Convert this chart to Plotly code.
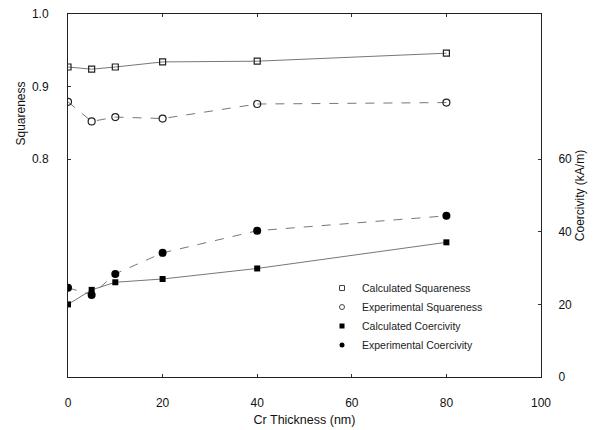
import plotly.graph_objects as go

thickness = [0, 5, 10, 20, 40, 80]
calc_squareness = [0.927, 0.924, 0.927, 0.934, 0.935, 0.946]
exp_squareness = [0.879, 0.852, 0.858, 0.856, 0.876, 0.878]
calc_coercivity = [20.0, 24.0, 26.1, 27.0, 29.9, 37.1]
exp_coercivity = [24.6, 22.6, 28.4, 34.2, 40.3, 44.4]

names = ["Calculated Squareness", "Experimental Squareness",
         "Calculated Coercivity", "Experimental Coercivity"]

FONT = "Liberation Sans, Arial, sans-serif"
LINE = "#777777"

markers = [
    dict(symbol="square-open", size=6, color="#222", line=dict(width=1.2, color="#222")),
    dict(symbol="circle-open", size=7, color="#222", line=dict(width=1.2, color="#222")),
    dict(symbol="square", size=6, color="#000"),
    dict(symbol="circle", size=8, color="#000"),
]
legend_markers = [
    dict(symbol="square-open", size=5, color="#444", line=dict(width=1, color="#444")),
    dict(symbol="circle-open", size=5, color="#444", line=dict(width=1, color="#444")),
    dict(symbol="square", size=5, color="#000"),
    dict(symbol="circle", size=5, color="#000"),
]
series = [calc_squareness, exp_squareness, calc_coercivity, exp_coercivity]
dashes = ["solid", "dash", "solid", "dash"]
axes = ["y", "y", "y2", "y2"]

fig = go.Figure()
for i in range(4):
    fig.add_trace(go.Scatter(
        x=thickness, y=series[i], name=names[i], mode="lines+markers", yaxis=axes[i],
        line=dict(color=LINE, width=1, dash=dashes[i]),
        marker=markers[i], showlegend=False,
    ))
for i in range(4):
    fig.add_trace(go.Scatter(
        x=[None], y=[None], name=names[i], mode="markers", yaxis=axes[i],
        marker=legend_markers[i], showlegend=True,
    ))

fig.update_layout(
    width=593, height=430,
    margin=dict(l=68, r=52, t=14, b=53, autoexpand=False),
    paper_bgcolor="white", plot_bgcolor="white",
    font=dict(family=FONT, size=12, color="#111"),
    showlegend=True,
    legend=dict(
        x=0.537, y=0.285, xanchor="left", yanchor="top",
        bgcolor="rgba(0,0,0,0)", font=dict(size=10.5, color="#222"),
        itemwidth=30, tracegroupgap=0,
    ),
    xaxis=dict(
        range=[0, 100], tickvals=[0, 20, 40, 60, 80, 100],
        ticks="inside", ticklen=3, tickcolor="#333",
        showline=True, linecolor="#222", linewidth=1, mirror="ticks",
        showgrid=False, zeroline=False, automargin=False,
        ticklabelstandoff=15,
        title=dict(text="Cr Thickness (nm)", standoff=5, font=dict(size=12.5)),
    ),
    yaxis=dict(
        range=[0.5, 1.0], tickvals=[0.8, 0.9, 1.0], ticktext=["0.8", "0.9", "1.0"],
        ticks="inside", ticklen=3, tickcolor="#333",
        showline=True, linecolor="#222", linewidth=1,
        showgrid=False, zeroline=False, automargin=False,
        ticklabelstandoff=16,
    ),
    yaxis2=dict(
        range=[0, 100], tickvals=[0, 20, 40, 60],
        overlaying="y", side="right",
        ticks="inside", ticklen=3, tickcolor="#333",
        showline=True, linecolor="#222", linewidth=1,
        showgrid=False, zeroline=False, automargin=False,
        ticklabelstandoff=14,
        title=dict(text="Coercivity (kA/m)", standoff=4, font=dict(size=12)),
    ),
    annotations=[dict(
        text="Squareness", textangle=-90, xref="paper", yref="paper",
        x=-0.1, y=0.725, xanchor="center", yanchor="middle",
        showarrow=False, font=dict(size=12, color="#111"),
    )],
)

fig.write_html("out.html")
